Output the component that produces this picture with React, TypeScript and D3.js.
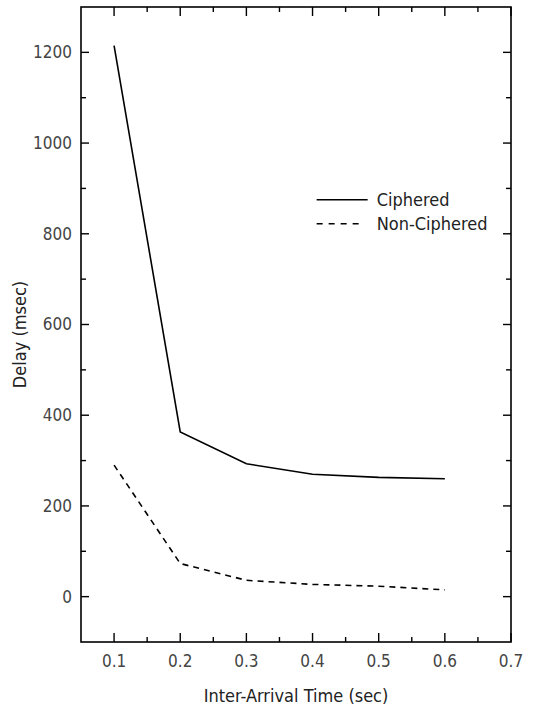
import * as d3 from "d3";

const interArrival = [0.1, 0.2, 0.3, 0.4, 0.5, 0.6];
const ciphered = [1215, 363, 293, 270, 263, 260];
const nonCiphered = [290, 73, 36, 27, 23, 15];

const xMajor = [0.1, 0.2, 0.3, 0.4, 0.5, 0.6, 0.7];
const xMinor = [0.15, 0.25, 0.35, 0.45, 0.55, 0.65];
const yMajor = [0, 200, 400, 600, 800, 1000, 1200];
const yMinor = [100, 300, 500, 700, 900, 1100];

const seriesNames = ["Ciphered", "Non-Ciphered"];

const font = "'Liberation Sans Narrow', 'DejaVu Sans Condensed', sans-serif";

const App = () => {
  const width = 542;
  const height = 714;
  const margin = { top: 7, right: 31, bottom: 72, left: 81 };

  const x = d3
    .scaleLinear()
    .domain([0.05, 0.7])
    .range([margin.left, width - margin.right]);
  const y = d3
    .scaleLinear()
    .domain([-100, 1300])
    .range([height - margin.bottom, margin.top]);

  const pts = (vals: number[]) => interArrival.map((t, i) => [t, vals[i]] as [number, number]);
  const line = d3
    .line<[number, number]>()
    .x((d) => x(d[0]))
    .y((d) => y(d[1]));

  const x0 = x.range()[0];
  const x1 = x.range()[1];
  const y0 = y.range()[0];
  const y1 = y.range()[1];

  // legend sits at about 0.41 on x, 875 on y
  const legX = x(0.4062);
  const legY = y(875);

  return (
    <svg
      width={width}
      height={height}
      style={{ position: "absolute", left: 0, top: 0, background: "#fff" }}
      fontFamily={font}
    >
      <rect x={x0} y={y1} width={x1 - x0} height={y0 - y1} fill="none" stroke="#000" strokeWidth={1.6} />

      {/* x ticks bottom & top */}
      {xMajor.map((t) => (
        <g key={"xM" + t}>
          <line x1={x(t)} x2={x(t)} y1={y0} y2={y0 - 9} stroke="#000" strokeWidth={1.4} />
          <line x1={x(t)} x2={x(t)} y1={y1} y2={y1 + 9} stroke="#000" strokeWidth={1.4} />
          <text x={x(t)} y={y0 + 25} textAnchor="middle" fontSize={17} fill="#444">
            {t.toFixed(1)}
          </text>
        </g>
      ))}
      {xMinor.map((t) => (
        <g key={"xm" + t}>
          <line x1={x(t)} x2={x(t)} y1={y0} y2={y0 - 5} stroke="#000" strokeWidth={1.4} />
          <line x1={x(t)} x2={x(t)} y1={y1} y2={y1 + 5} stroke="#000" strokeWidth={1.4} />
        </g>
      ))}

      {/* y ticks left & right */}
      {yMajor.map((v) => (
        <g key={"yM" + v}>
          <line x1={x0} x2={x0 + 8} y1={y(v)} y2={y(v)} stroke="#000" strokeWidth={1.4} />
          <line x1={x1} x2={x1 - 8} y1={y(v)} y2={y(v)} stroke="#000" strokeWidth={1.4} />
          <text x={x0 - 9} y={y(v)} dy="0.35em" textAnchor="end" fontSize={17} fill="#444">
            {v}
          </text>
        </g>
      ))}
      {yMinor.map((v) => (
        <g key={"ym" + v}>
          <line x1={x0} x2={x0 + 5} y1={y(v)} y2={y(v)} stroke="#000" strokeWidth={1.4} />
          <line x1={x1} x2={x1 - 5} y1={y(v)} y2={y(v)} stroke="#000" strokeWidth={1.4} />
        </g>
      ))}

      {/* series */}
      <path d={line(pts(ciphered)) ?? ""} fill="none" stroke="#000" strokeWidth={1.6} />
      <path
        d={line(pts(nonCiphered)) ?? ""}
        fill="none"
        stroke="#000"
        strokeWidth={1.6}
        strokeDasharray="6 5"
      />

      {/* legend */}
      <line x1={legX} x2={legX + 51} y1={legY} y2={legY} stroke="#000" strokeWidth={1.4} />
      <text x={legX + 60} y={legY + 6} fontSize={18} fill="#222">
        {seriesNames[0]}
      </text>
      <line
        x1={legX}
        x2={legX + 43}
        y1={legY + 24}
        y2={legY + 24}
        stroke="#000"
        strokeWidth={1.4}
        strokeDasharray="6 6"
      />
      <text x={legX + 60} y={legY + 30} fontSize={18} fill="#222">
        {seriesNames[1]}
      </text>

      {/* axis titles */}
      <text x={(x0 + x1) / 2} y={702} textAnchor="middle" fontSize={18} fill="#222">
        Inter-Arrival Time (sec)
      </text>
      <text
        transform={`translate(26, ${(y0 + y1) / 2 + 10}) rotate(-90)`}
        textAnchor="middle"
        fontSize={18}
        fill="#222"
      >
        Delay (msec)
      </text>
    </svg>
  );
};

export default App;
